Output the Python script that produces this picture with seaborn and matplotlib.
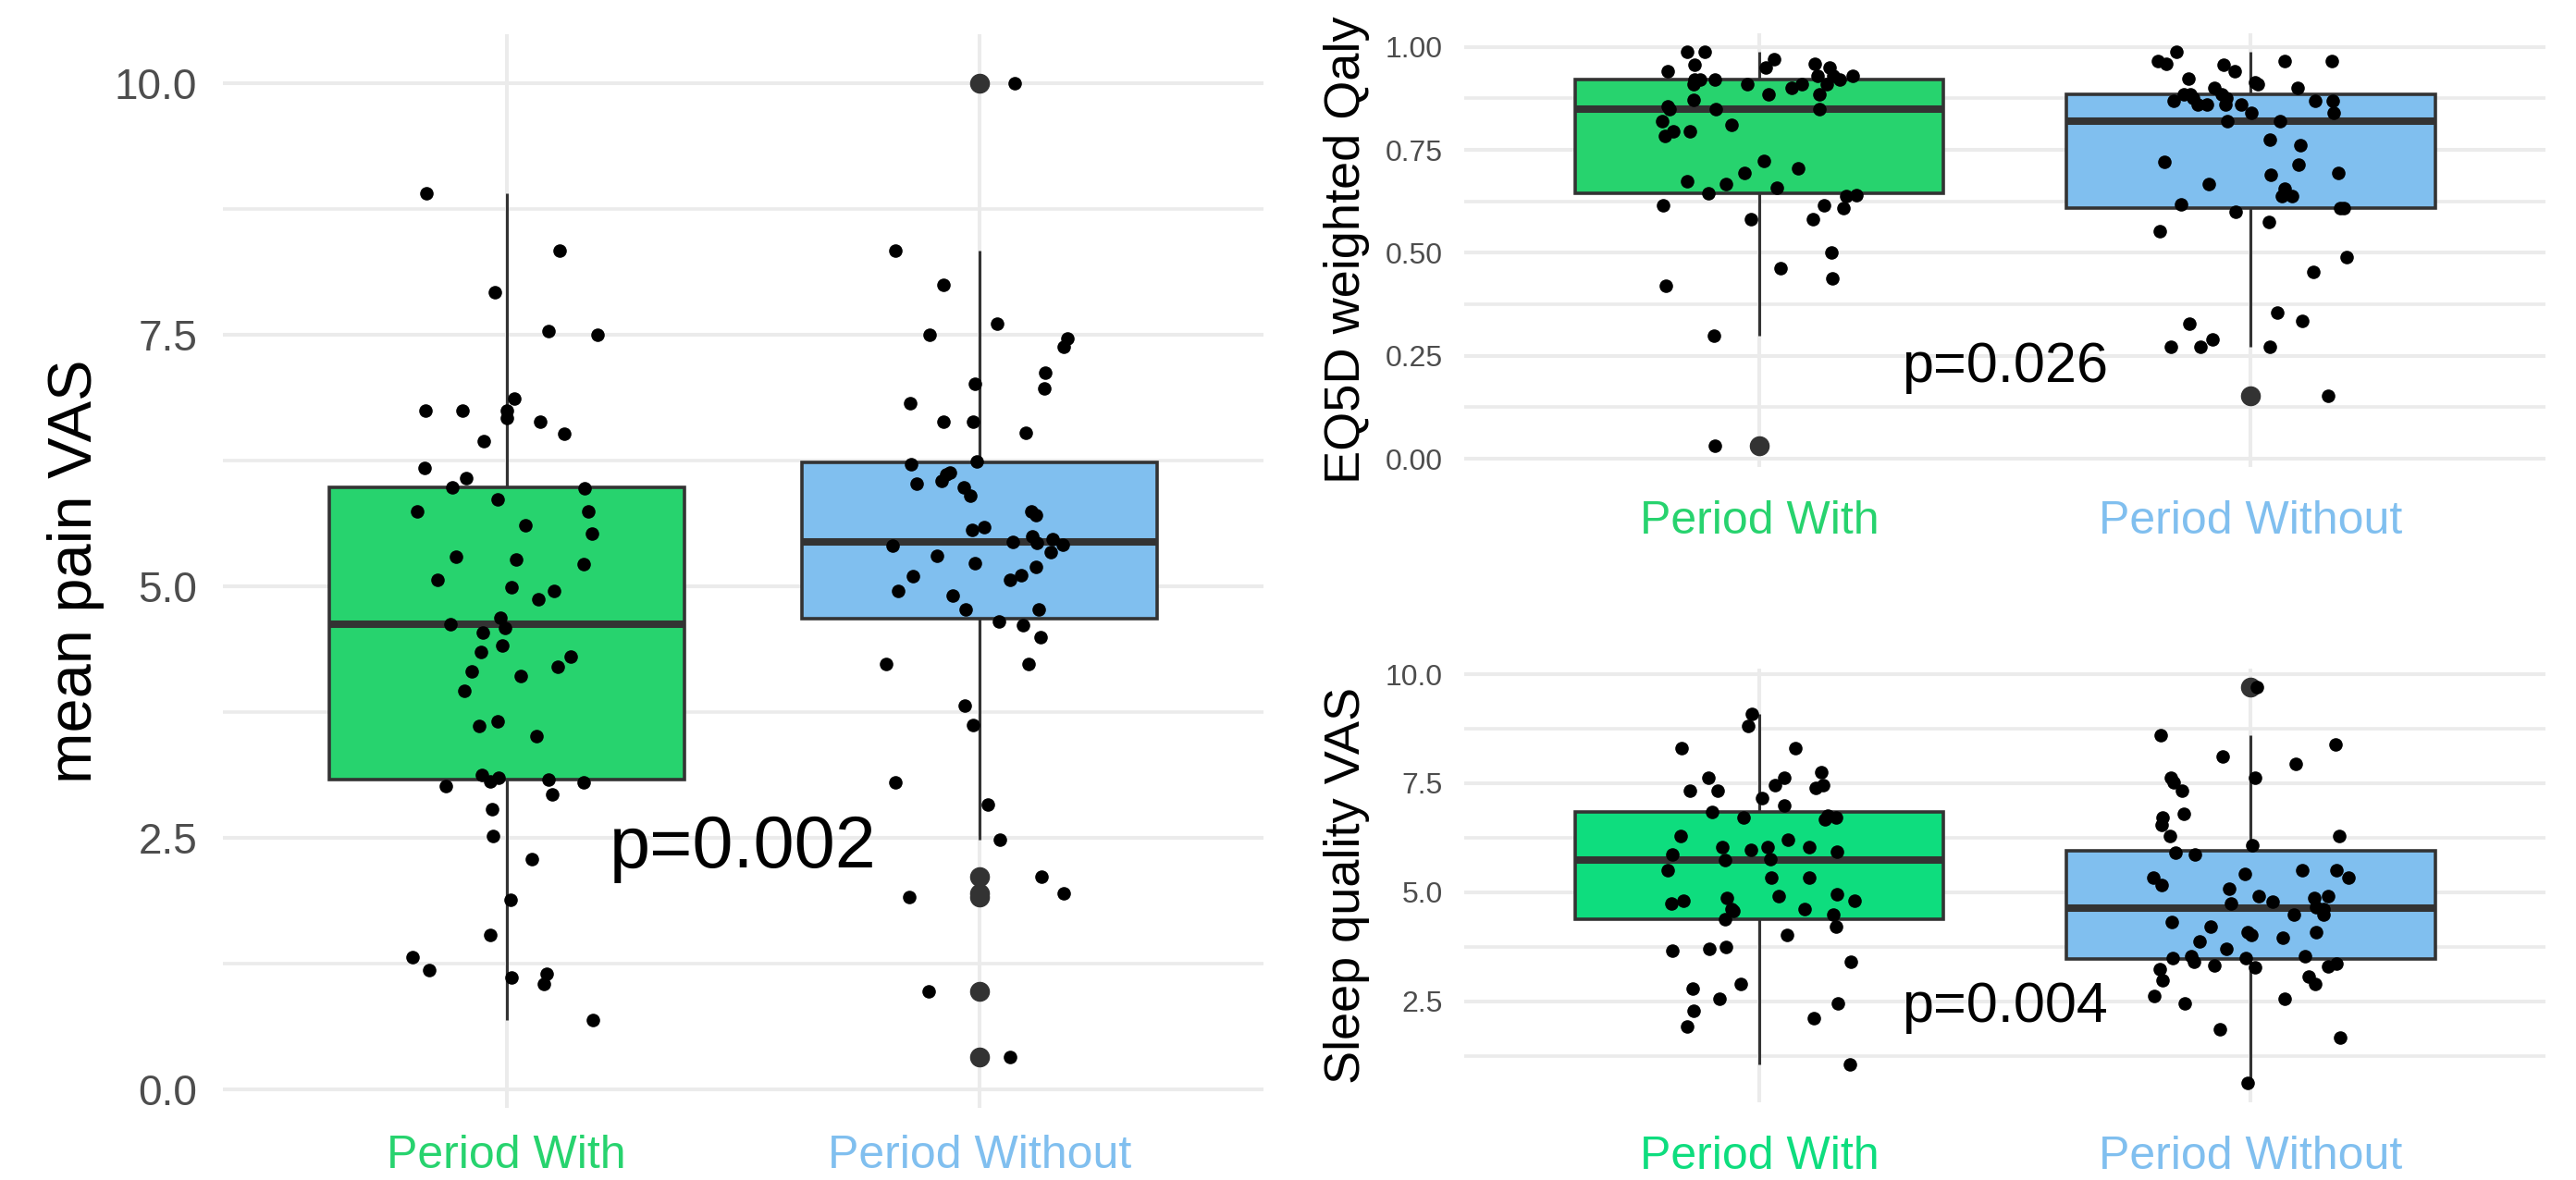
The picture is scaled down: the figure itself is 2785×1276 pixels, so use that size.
import numpy as np
import pandas as pd
import matplotlib
matplotlib.use("Agg")
import matplotlib.pyplot as plt
import seaborn as sns
from matplotlib.ticker import MultipleLocator, FormatStrFormatter

# Categories and colours
periods = ["Period With", "Period Without"]
green = "#27D36E"
green_sleep = "#0EDD7E"
blue = "#80BFEF"

pain_with = [8.90, 8.33, 7.92, 7.53, 7.50, 6.86, 6.74, 6.74, 6.74, 6.67, 6.63, 6.51,
             6.44, 6.17, 6.07, 5.97, 5.98, 5.86, 5.74, 5.74, 5.60, 5.52, 5.29, 5.26,
             5.22, 5.06, 4.99, 4.95, 4.87, 4.69, 4.62, 4.58, 4.54, 4.41, 4.35, 4.30,
             4.20, 4.15, 4.11, 3.96, 3.66, 3.61, 3.51, 3.12, 3.10, 3.08, 3.06, 3.05,
             3.01, 2.93, 2.78, 2.52, 2.29, 1.88, 1.53, 1.31, 1.18, 1.15, 1.11, 1.05, 0.69]
pain_without = [10.0, 8.33, 7.99, 7.61, 7.50, 7.46, 7.38, 7.12, 7.01, 6.96, 6.82, 6.63,
                6.63, 6.52, 6.24, 6.21, 6.13, 6.11, 6.05, 6.02, 5.98, 5.90, 5.74, 5.71,
                5.59, 5.56, 5.49, 5.47, 5.44, 5.43, 5.41, 5.40, 5.34, 5.30, 5.23, 5.19,
                5.11, 5.10, 5.06, 4.95, 4.91, 4.77, 4.77, 4.65, 4.61, 4.49, 4.23, 4.23,
                3.81, 3.62, 3.05, 2.83, 2.48, 2.11, 1.95, 1.91, 0.97, 0.32]

# EQ5D weighted Qaly
qaly_with = [0.987, 0.987, 0.970, 0.957, 0.960, 0.950, 0.940, 0.949, 0.930, 0.930, 0.920,
             0.920, 0.930, 0.920, 0.920, 0.910, 0.910, 0.910, 0.910, 0.900, 0.885, 0.885,
             0.872, 0.855, 0.850, 0.850, 0.850, 0.820, 0.810, 0.795, 0.795, 0.784, 0.723,
             0.706, 0.693, 0.674, 0.668, 0.659, 0.638, 0.640, 0.645, 0.615, 0.615, 0.608,
             0.582, 0.582, 0.501, 0.463, 0.437, 0.419, 0.298, 0.032]
qaly_without = [0.987, 0.965, 0.965, 0.965, 0.960, 0.957, 0.940, 0.923, 0.915, 0.910, 0.900,
                0.900, 0.885, 0.885, 0.885, 0.876, 0.876, 0.868, 0.868, 0.868, 0.860, 0.860,
                0.860, 0.860, 0.840, 0.840, 0.820, 0.820, 0.774, 0.761, 0.720, 0.714, 0.693,
                0.689, 0.668, 0.655, 0.638, 0.638, 0.618, 0.608, 0.608, 0.599, 0.574, 0.552,
                0.490, 0.454, 0.356, 0.335, 0.327, 0.290, 0.271, 0.271, 0.271, 0.152]

# Sleep quality VAS
sleep_with = [9.08, 8.82, 8.31, 8.31, 7.76, 7.62, 7.62, 7.40, 7.33, 7.45, 7.45, 7.33,
              7.15, 6.99, 6.85, 6.76, 6.72, 6.72, 6.67, 6.29, 6.20, 6.03, 6.03, 6.03,
              5.98, 5.94, 5.86, 5.77, 5.73, 5.51, 5.34, 5.34, 4.95, 4.91, 4.87, 4.81,
              4.81, 4.74, 4.61, 4.57, 4.61, 4.48, 4.39, 4.22, 4.03, 3.75, 3.66, 3.70,
              3.40, 2.89, 2.80, 2.55, 2.46, 2.29, 2.11, 1.92, 1.04]
sleep_without = [9.70, 8.61, 8.39, 8.11, 7.94, 7.62, 7.62, 7.53, 7.32, 6.80, 6.72, 6.54,
                 6.29, 6.29, 6.07, 5.90, 5.86, 5.51, 5.51, 5.43, 5.34, 5.34, 5.17, 5.08,
                 4.91, 4.91, 4.87, 4.78, 4.74, 4.65, 4.61, 4.48, 4.48, 4.31, 4.22, 4.09,
                 4.03, 4.09, 3.88, 3.96, 3.70, 3.53, 3.53, 3.49, 3.48, 3.40, 3.36, 3.32,
                 3.30, 3.28, 3.23, 3.06, 2.98, 2.89, 2.63, 2.55, 2.46, 1.86, 1.66, 0.63]

sns.set_style("white")
plt.rcParams["font.family"] = ["Liberation Sans", "DejaVu Sans"]

np.random.seed(7)

fig = plt.figure(figsize=(27.85, 12.76), dpi=100)
ax_pain = fig.add_axes([0.0865, 0.0611, 0.404, 0.910])
ax_qaly = fig.add_axes([0.5684, 0.6042, 0.4198, 0.3676])
ax_sleep = fig.add_axes([0.5684, 0.0658, 0.4198, 0.3676])


def draw_panel(ax, vals_with, vals_without, cols, ylabel, ylim, major, fmt,
               p_text, p_y, tick_size, label_size, p_size, ytick_pad, xtick_pad, label_x):
    df = pd.DataFrame({
        "period": [periods[0]] * len(vals_with) + [periods[1]] * len(vals_without),
        "value": list(vals_with) + list(vals_without),
    })
    sns.boxplot(data=df, x="period", y="value", hue="period", order=periods,
                palette=dict(zip(periods, cols)), legend=False, ax=ax,
                width=0.75, saturation=1, linewidth=2.6, linecolor="#333333",
                showcaps=False, whis=1.5,
                medianprops=dict(linewidth=5.8, color="#333333"),
                whiskerprops=dict(linewidth=2.2),
                flierprops=dict(marker="o", markersize=14.5, markerfacecolor="#333333",
                                markeredgecolor="#333333"))
    sns.stripplot(data=df, x="period", y="value", order=periods, color="black",
                  size=10.5, jitter=0.2, linewidth=0, ax=ax, zorder=5)

    ax.set_xlim(-0.6, 1.6)
    ax.set_ylim(*ylim)
    ax.yaxis.set_major_locator(MultipleLocator(major))
    ax.yaxis.set_minor_locator(MultipleLocator(major / 2))
    ax.yaxis.set_major_formatter(FormatStrFormatter(fmt))
    ax.set_axisbelow(True)
    ax.grid(True, which="major", axis="both", color="#EBEBEB", linewidth=2.9)
    ax.grid(True, which="minor", axis="y", color="#EBEBEB", linewidth=2.6)
    for s in ax.spines.values():
        s.set_visible(False)
    ax.tick_params(axis="y", which="both", length=0, labelsize=tick_size,
                   labelcolor="#4D4D4D", pad=ytick_pad)
    ax.tick_params(axis="x", which="both", length=0, labelsize=36, pad=xtick_pad)
    for lbl, c in zip(ax.get_xticklabels(), cols):
        lbl.set_color(c)
    ax.set_xlabel("")
    ax.set_ylabel(ylabel, fontsize=label_size, color="black")
    ax.yaxis.label.set_va("center")
    ax.yaxis.set_label_coords(label_x, 0.5)
    ax.text(0.5, p_y, p_text, ha="center", va="center", fontsize=p_size, color="black")


draw_panel(ax_pain, pain_with, pain_without, [green, blue], "mean pain VAS",
           (-0.185, 10.485), 2.5, "%.1f", "p=0.002", 2.39,
           33, 48, 57, 20, 21, -0.141)
draw_panel(ax_qaly, qaly_with, qaly_without, [green, blue], "EQ5D weighted Qaly",
           (-0.02, 1.033), 0.25, "%.2f", "p=0.026", 0.222,
           23, 39, 44, 16.5, 26, -0.109)
draw_panel(ax_sleep, sleep_with, sleep_without, [green_sleep, blue], "Sleep quality VAS",
           (0.18, 10.13), 2.5, "%.1f", "p=0.004", 2.35,
           23, 39, 44, 16.5, 26, -0.109)

fig.savefig("out.png", dpi=100, facecolor="white")
